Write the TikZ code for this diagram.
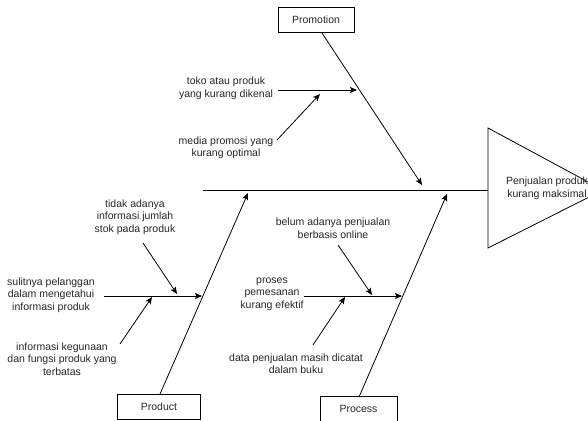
\documentclass[tikz,border=0pt]{standalone}
\usepackage{fontspec}
\setmainfont{Liberation Sans}
\usetikzlibrary{arrows.meta}
\begin{document}
\begin{tikzpicture}[x=1pt,y=-1pt,
  every node/.style={font=\fontsize{10.5}{12.5}\selectfont, text=black!85},
  box/.style={draw, line width=0.8pt, minimum width=#1, minimum height=25pt, inner sep=0pt},
  lbl/.style={align=center, inner sep=0pt},
  ln/.style={line width=0.8pt},
  arr/.style={line width=0.8pt, -{Stealth[length=7pt,width=6pt,inset=1.5pt]}}
]
\useasboundingbox (0,0) rectangle (588,420);
\begin{scope}
\clip (0,0) rectangle (588,420);
% effect
\coordinate (tT) at (488,128);
\coordinate (tA) at (603,190);
\coordinate (tB) at (488,248);
\coordinate (triW) at (488,190);
\draw[ln, fill=white] (tT) -- (tA) -- (tB) -- cycle;
\node[lbl] (effect) at (547,188.5) {Penjualan produk\\kurang maksimal};
\end{scope}
% category boxes
\node[box=76pt] (promo) at (316,20) {Promotion};
\node[box=83pt] (product) at (159,407) {Product};
\node[box=77pt] (process) at (358.5,409) {Process};
% spine
\coordinate (spineL) at (203,190);
\draw[ln] (spineL) -- (triW);
% main bones
\coordinate (promoS) at (322,33);
\coordinate (promoT) at (422,185);
\draw[arr] (promoS) -- (promoT);
\coordinate (prodN) at (160,394);
\coordinate (prodT) at (248,193);
\draw[arr] (prodN) -- (prodT);
\coordinate (procN) at (359,397);
\coordinate (procT) at (447,194);
\draw[arr] (procN) -- (procT);
% promotion causes
\node[lbl] (p1) at (226,88.5) {toko atau produk\\yang kurang dikenal};
\coordinate (p1s) at (278,90);
\coordinate (p1t) at (357,90);
\draw[arr] (p1s) -- (p1t);
\node[lbl] (p2) at (226,148) {media promosi yang\\kurang optimal};
\coordinate (p2s) at (277,140);
\coordinate (p2t) at (320,94);
\draw[arr] (p2s) -- (p2t);
% product causes
\node[lbl] (d1) at (51,295) {sulitnya pelanggan\\dalam mengetahui\\informasi produk};
\coordinate (d1s) at (104,296);
\coordinate (d1t) at (202,296);
\draw[arr] (d1s) -- (d1t);
\node[lbl] (d2) at (135,217) {tidak adanya\\informasi jumlah\\stok pada produk};
\coordinate (d2s) at (143,243);
\coordinate (d2t) at (177,294);
\draw[arr] (d2s) -- (d2t);
\node[lbl] (d3) at (62,359) {informasi kegunaan\\dan fungsi produk yang\\terbatas};
\coordinate (d3s) at (120,344);
\coordinate (d3t) at (152,297);
\draw[arr] (d3s) -- (d3t);
% process causes
\node[lbl] (r1) at (272,294) {proses\\pemesanan\\kurang efektif};
\coordinate (r1s) at (304,296);
\coordinate (r1t) at (402,296);
\draw[arr] (r1s) -- (r1t);
\node[lbl] (r2) at (333,228) {belum adanya penjualan\\berbasis online};
\coordinate (r2s) at (338,245);
\coordinate (r2t) at (372,295);
\draw[arr] (r2s) -- (r2t);
\node[lbl] (r3) at (296,363.5) {data penjualan masih dicatat\\dalam buku};
\coordinate (r3s) at (313,345);
\coordinate (r3t) at (345,297);
\draw[arr] (r3s) -- (r3t);
\end{tikzpicture}
\end{document}
